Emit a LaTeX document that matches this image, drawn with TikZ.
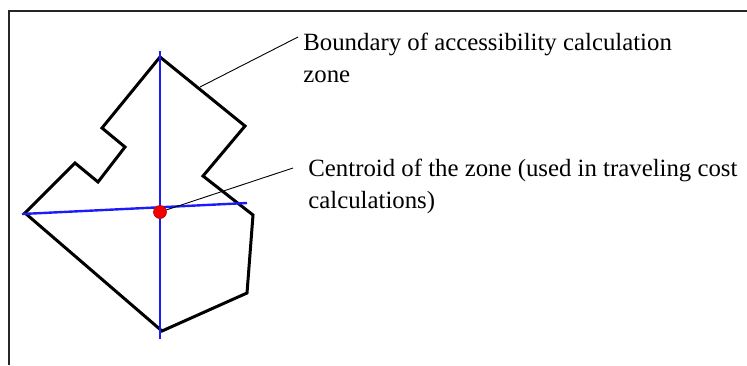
\documentclass[tikz,border=0pt]{standalone}
\usepackage{fontspec}
\setmainfont{Liberation Serif}
\usepackage{tikz}
\usetikzlibrary{positioning}
\definecolor{axisc}{RGB}{28,28,250}
\definecolor{dotc}{RGB}{240,0,0}

\begin{document}
\begin{tikzpicture}[x=0.5pt, y=-0.5pt,
  zone/.style={draw=black, line width=1.5pt, line join=miter},
  axisline/.style={draw=axisc, line width=1.2pt},
  lead/.style={draw=black, line width=0.45pt},
  lab/.style={font=\fontsize{12.4}{16}\selectfont, align=left, inner sep=0pt, anchor=base west}]
\useasboundingbox (0,0) rectangle (747,365);
\draw[line width=1pt, black!85] (9,365) -- (9,11) -- (747,11);
% zone boundary
\draw[zone] (160,57) -- (245,126) -- (203,176) -- (253,215) -- (247,293)
  -- (162,331) -- (25,213) -- (75,163) -- (98,182) -- (125,147)
  -- (102,128) -- cycle;
% axes through the centroid
\draw[axisline] (160,51) -- (160,339);
\draw[axisline] (22,214) -- (247,203);
\node[circle, fill=dotc, draw=dotc!80!black, line width=0.3pt, minimum size=6.5pt, inner sep=0pt] (cen) at (160,212) {};
% labels (base anchor sits on the last line)
\coordinate (bnd) at (200,87);
\coordinate (bndtip) at (298,37);
\coordinate (centip) at (293,168);
\node[lab] (bndlab) at (303,82) {Boundary of accessibility calculation\\zone};
\node[lab] (cenlab) at (308,208) {Centroid of the zone (used in traveling cost\\calculations)};
\draw[lead] (bnd) -- (bndtip);
\draw[lead] (cen) -- (centip);
\end{tikzpicture}
\end{document}
